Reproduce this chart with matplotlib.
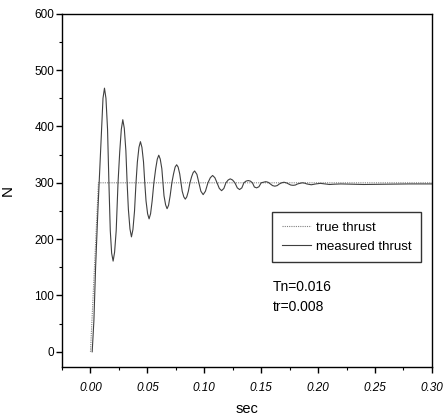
"""Recreate the true vs measured thrust step-response chart."""

import matplotlib
matplotlib.use("Agg")
import matplotlib.pyplot as plt
from matplotlib.ticker import MultipleLocator

plt.rcParams["font.family"] = ["Liberation Sans", "DejaVu Sans"]

# true thrust: ramp up to 300 N, then flat
true_t = [0.0, 0.007, 0.30]
true_n = [0.0, 300.0, 300.0]

# measured thrust (peaks, troughs, crossings and in-between)
meas_t = [
    0.0015, 0.003, 0.0045, 0.0065, 0.0085, 0.0098, 0.011, 0.0123, 0.0136, 0.015,
    0.0162, 0.0174, 0.0186, 0.0199, 0.0212, 0.0226, 0.0242, 0.0257, 0.0271, 0.0284,
    0.0297, 0.0311, 0.0322, 0.0333, 0.0347, 0.036, 0.0373, 0.0387, 0.040, 0.0412,
    0.0426, 0.0439, 0.0452, 0.0466, 0.0477, 0.0488, 0.0502, 0.0515, 0.0528, 0.0542,
    0.0557, 0.0573, 0.0587, 0.060, 0.0613, 0.0627, 0.0637, 0.0646, 0.066, 0.0673,
    0.0686, 0.070, 0.0715, 0.073, 0.0744, 0.0757, 0.077, 0.0784, 0.0795, 0.0806,
    0.082, 0.0833, 0.0846, 0.086, 0.0874, 0.0889, 0.0902, 0.0915, 0.0935, 0.0953,
    0.097, 0.099, 0.101, 0.1032, 0.1053, 0.1073, 0.1093, 0.1112, 0.1132, 0.1152,
    0.1172, 0.119, 0.121, 0.1228, 0.1248, 0.1269, 0.129, 0.131, 0.133, 0.1348,
    0.1367, 0.1386, 0.1405, 0.1423, 0.144, 0.146, 0.148, 0.150, 0.152, 0.154,
    0.156, 0.158, 0.160, 0.162, 0.164, 0.166, 0.168, 0.170, 0.172, 0.174,
    0.176, 0.178, 0.180, 0.182, 0.184, 0.186, 0.188, 0.190, 0.194, 0.198,
    0.202, 0.206, 0.210, 0.214, 0.22, 0.23, 0.24, 0.26, 0.28, 0.30,
]
meas_n = [
    0, 55, 150, 250, 340, 400, 450, 468, 450, 395,
    300, 215, 175, 161, 177, 215, 300, 355, 395, 412,
    397, 357, 300, 253, 218, 204, 217, 250, 300, 337,
    363, 373, 363, 337, 300, 268, 245, 236, 245, 268,
    300, 325, 342, 349, 342, 325, 300, 277, 261, 254,
    260, 277, 300, 316, 328, 332, 328, 316, 300, 285,
    275, 271, 275, 285, 300, 311, 318, 321, 315, 300,
    285, 279, 285, 300, 309, 313, 309, 300, 290, 286,
    290, 300, 305, 307, 305, 300, 291, 288, 291, 300,
    303, 304, 303, 300, 292.5, 291, 293, 300, 301, 302,
    301, 298, 295, 294, 295, 298, 300, 301, 300, 298,
    296, 295.5, 296, 298, 299, 300, 299.5, 298, 296.5, 298,
    299, 298, 297, 297.5, 298, 297.5, 297, 297.5, 298, 298,
]

fig = plt.figure(figsize=(4.43, 4.18), dpi=100)
ax = fig.add_axes([0.140, 0.122, 0.835, 0.845])

ax.plot(true_t, true_n, color="#808080", linestyle=(0, (1, 1)), linewidth=0.8,
        label="true thrust")
ax.plot(meas_t, meas_n, color="#404040", linewidth=0.8, label="measured thrust")

ax.set_xlim(-0.025, 0.30)
ax.set_ylim(-27, 600)
ax.xaxis.set_major_locator(MultipleLocator(0.05))
ax.xaxis.set_minor_locator(MultipleLocator(0.025))
ax.yaxis.set_major_locator(MultipleLocator(100))
ax.yaxis.set_minor_locator(MultipleLocator(50))
ax.xaxis.set_major_formatter(plt.FormatStrFormatter("%.2f"))

ax.tick_params(which="major", direction="out", length=4, width=1, labelsize=8.5)
ax.tick_params(which="minor", direction="out", length=2.5, width=0.8)
ax.tick_params(axis="x", pad=7)
ax.tick_params(axis="y", pad=1.5)
for lab in ax.get_xticklabels():
    lab.set_fontstyle("italic")

for sp in ax.spines.values():
    sp.set_linewidth(1.0)

ax.set_xlabel("sec", fontsize=10.5)
ax.set_ylabel("N", fontsize=11, rotation=90)
ax.xaxis.set_label_coords(0.5, -0.1)
ax.yaxis.set_label_coords(-0.127, 0.5)

leg = ax.legend(loc="upper left", bbox_to_anchor=(0.569, 0.438), borderaxespad=0,
                fontsize=9.5, frameon=True, fancybox=False, edgecolor="black",
                handlelength=2.2, handletextpad=0.4, borderpad=0.7,
                labelspacing=0.5)
leg.get_frame().set_linewidth(1.0)

ax.text(0.569, 0.198, "Tn=0.016\ntr=0.008", transform=ax.transAxes,
        fontsize=10, va="center", ha="left", linespacing=1.5)

fig.savefig("out.png", dpi=100)
